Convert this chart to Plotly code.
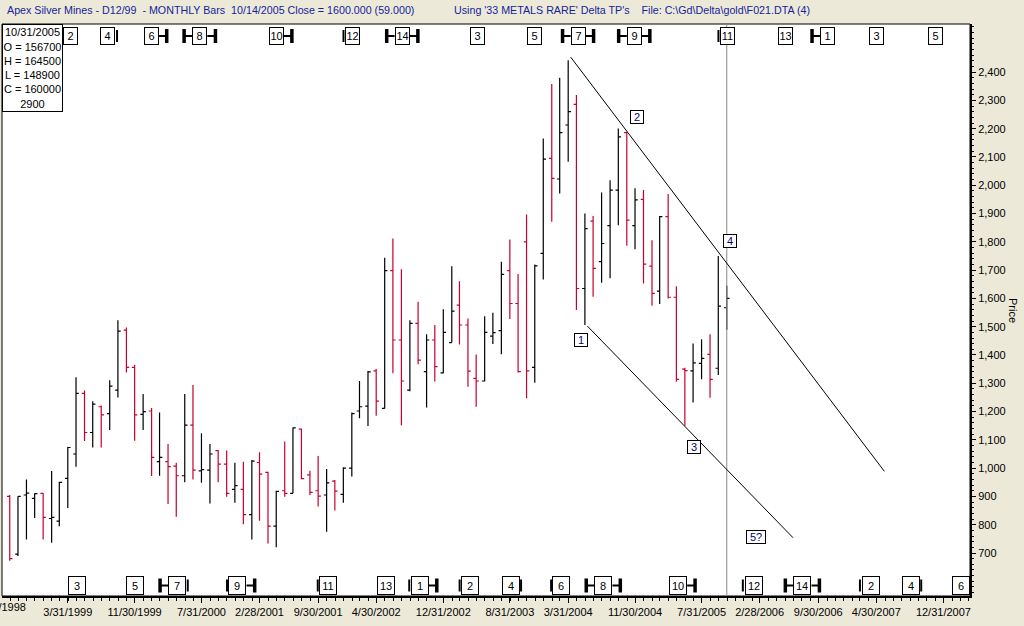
import math
import pandas as pd
import plotly.graph_objects as go

# ---------------- data ----------------
start = pd.Timestamp("1998-08-31")
n_bars = 87
dates = [start + pd.offsets.MonthEnd(k) for k in range(n_bars)]

opens = [900, 696, 905, 893, 911, 822, 813, 964, 1050, 1264,
         1126, 1217, 1193, 1276, 1488, 1356, 1190, 1202, 1023, 1023,
         1007, 973, 1152, 990, 993, 1062, 1014, 925, 925, 836,
         1020, 985, 795, 920, 911, 1138, 976, 920, 905, 954,
         907, 1000, 1202, 1219, 1344, 1211, 1698, 1453, 1276, 1512,
         1341, 1453, 1337, 1444, 1576, 1506, 1317, 1308, 1467, 1486,
         1698, 1582, 1800, 1356, 1759, 2095, 2022, 2213, 2286, 1635,
         1873, 1730, 1857, 1983, 2186, 1857, 1950, 1714, 1626, 1889,
         1604, 1350, 1344, 1370, 1402, 1353, 1567]
highs = [905, 901, 960, 911, 912, 990, 952, 1075, 1321, 1274,
         1236, 1221, 1311, 1523, 1497, 1365, 1262, 1213, 1197, 1085,
         1019, 1262, 1294, 1123, 1085, 1064, 1062, 1019, 1023, 1029,
         1056, 987, 920, 1094, 1144, 1140, 991, 1043, 997, 958,
         1003, 1197, 1308, 1343, 1350, 1744, 1812, 1703, 1523, 1588,
         1473, 1506, 1562, 1714, 1661, 1529, 1402, 1537, 1549, 1730,
         1808, 1686, 1897, 1720, 2165, 2358, 2380, 2442, 2319, 1900,
         1891, 1974, 2018, 2201, 2189, 1989, 1983, 1806, 1891, 1969,
         1643, 1355, 1441, 1456, 1473, 1750, 1645]
lows = [673, 689, 748, 824, 748, 736, 795, 859, 1005, 1096,
        1073, 1073, 1135, 1250, 1338, 1097, 1135, 972, 973, 873,
        828, 950, 960, 948, 875, 950, 899, 878, 802, 748,
        814, 734, 720, 899, 911, 961, 905, 864, 775, 850,
        878, 970, 1176, 1149, 1185, 1211, 1335, 1152, 1272, 1367,
        1214, 1306, 1335, 1444, 1437, 1288, 1217, 1306, 1439, 1403,
        1527, 1338, 1247, 1302, 1667, 1871, 1971, 2083, 1559, 1506,
        1606, 1655, 1671, 1859, 1786, 1774, 1653, 1574, 1580, 1600,
        1305, 1150, 1232, 1314, 1249, 1329, 1489]
closes = [680, 900, 912, 910, 826, 826, 950, 1073, 1264, 1126,
          1226, 1188, 1290, 1484, 1356, 1188, 1200, 1038, 1038, 1005,
          973, 1152, 993, 995, 1050, 1014, 911, 938, 836, 1025,
          979, 795, 918, 911, 1142, 963, 914, 901, 948, 919,
          1000, 1193, 1217, 1340, 1237, 1698, 1453, 1308, 1512, 1382,
          1453, 1359, 1480, 1555, 1506, 1343, 1308, 1480, 1479, 1685,
          1582, 1341, 1344, 1715, 2092, 2024, 2186, 2260, 1635, 1847,
          1706, 1794, 1983, 2171, 1877, 1948, 1721, 1618, 1889, 1604,
          1314, 1345, 1372, 1388, 1314, 1573, 1600]

x_tick_labels = ["3/31/1999", "11/30/1999", "7/31/2000", "2/28/2001", "9/30/2001",
                 "4/30/2002", "12/31/2002", "8/31/2003", "3/31/2004", "11/30/2004",
                 "7/31/2005", "2/28/2006", "9/30/2006", "4/30/2007", "12/31/2007"]
y_tick_values = list(range(700, 2401, 100))

# cycle labels (month index from 8/1998)
top_labels = ["2", "4", "6", "8", "10", "12", "14", "3", "5", "7", "9", "11", "13", "1", "3", "5"]
top_pos = [7.3, 11.8, 17.0, 22.8, 32.0, 41.1, 47.1, 56.2, 63.0, 68.2, 74.9, 86.1, 93.1, 98.1, 104.0, 111.1]
top_left = ["", "", "", "H", "", "[", "H", "", "", "H", "H", "[", "", "H", "", ""]
top_right = ["", "[", "H", "H", "H", "", "H", "", "", "H", "H", "", "", "", "", ""]

bot_labels = ["3", "5", "7", "9", "11", "13", "1", "2", "4", "6", "8", "10", "12", "14", "2", "4", "6"]
bot_pos = [8.1, 15.0, 20.1, 27.3, 38.2, 45.2, 49.2, 55.2, 60.1, 66.2, 71.2, 80.2, 89.2, 95.1, 103.3, 108.1, 114.1]
bot_left = ["", "", "H", "[", "[", "", "[", "[", "", "[", "H", "", "[", "H", "[", "", ""]
bot_right = ["", "", "[", "H", "", "", "H", "", "[", "", "H", "H", "", "H", "", "[", ""]

# turning points on chart
tp_labels = ["1", "2", "3", "4", "5?"]
tp_month = [68.5, 75.2, 82.1, 86.4, 89.5]
tp_price = [1453, 2241, 1074, 1803, 756]

# channel lines (month index, price)
upper_line = [(67.3, 2453), (104.96, 989)]
lower_line = [(69.3, 1502), (94.0, 754)]
marker_month = 86  # 10/31/2005

# ---------------- helpers ----------------
W, H = 1024, 626
ML, MR, MT, MB = 2, 54, 24, 30
PW, PH = W - ML - MR, H - MT - MB
PX_PER_MONTH = 8.34


def mpos(f):
    k = math.floor(f)
    ts = start + pd.offsets.MonthEnd(k) + pd.Timedelta(days=(f - k) * 30.44)
    return ts.strftime("%Y-%m-%d %H:%M")


def py(px_y):
    return 1 - (px_y - MT) / PH


FONT = "Liberation Sans, Arial, sans-serif"

fig = go.Figure()
fig.add_trace(go.Ohlc(
    x=dates, open=opens, high=highs, low=lows, close=closes,
    increasing=dict(line=dict(color="#000000", width=1.2)),
    decreasing=dict(line=dict(color="#C8002E", width=1.2)),
    tickwidth=0.36, hoverinfo="skip", showlegend=False,
))

shapes = []
annotations = []

# frame
shapes.append(dict(type="rect", xref="paper", yref="paper", x0=0, x1=1, y0=0, y1=1,
                   line=dict(color="black", width=1), layer="below"))

# vertical marker line
shapes.append(dict(type="line", xref="x", yref="paper", x0=mpos(marker_month), x1=mpos(marker_month),
                   y0=0, y1=1, line=dict(color="#8a8a8a", width=1)))

# channel lines
for ln in (upper_line, lower_line):
    shapes.append(dict(type="line", xref="x", yref="y",
                       x0=mpos(ln[0][0]), y0=ln[0][1], x1=mpos(ln[1][0]), y1=ln[1][1],
                       line=dict(color="black", width=1)))


def add_row(labels, pos, lefts, rights, cy, bw, bh):
    for lab, p, lft, rgt in zip(labels, pos, lefts, rights):
        annotations.append(dict(
            x=mpos(p), xref="x", y=py(cy), yref="paper", text=lab, showarrow=False,
            font=dict(family=FONT, size=11, color="black"),
            bgcolor="white", bordercolor="black", borderwidth=1, borderpad=0,
            width=bw - 2, height=bh - 2, xanchor="center", yanchor="middle"))
        half = bw / 2.0
        for side, kind in ((-1, lft), (1, rgt)):
            if kind == "H":
                e = p + side * half / PX_PER_MONTH
                b = p + side * (half + 8) / PX_PER_MONTH
                shapes.append(dict(type="line", xref="x", yref="paper", x0=mpos(e), x1=mpos(b),
                                   y0=py(cy), y1=py(cy), line=dict(color="black", width=2)))
                shapes.append(dict(type="line", xref="x", yref="paper", x0=mpos(b), x1=mpos(b),
                                   y0=py(cy - 7), y1=py(cy + 7), line=dict(color="black", width=3.5)))
            elif kind == "[":
                b = p + side * (half + 1.5) / PX_PER_MONTH
                shapes.append(dict(type="line", xref="x", yref="paper", x0=mpos(b), x1=mpos(b),
                                   y0=py(cy - 6), y1=py(cy + 6), line=dict(color="black", width=2)))


add_row(top_labels, top_pos, top_left, top_right, 36, 15, 18)
add_row(bot_labels, bot_pos, bot_left, bot_right, 585.5, 18, 19)

# turning point labels
for lab, m, pr in zip(tp_labels, tp_month, tp_price):
    annotations.append(dict(
        x=mpos(m), xref="x", y=pr, yref="y", text=lab, showarrow=False,
        font=dict(family=FONT, size=11, color="#000080"),
        bgcolor="white", bordercolor="black", borderwidth=1, borderpad=0,
        width=(18 if len(lab) > 1 else 12), height=12, xanchor="center", yanchor="middle"))

# info box
annotations.append(dict(
    x=0, xref="paper", y=1, yref="paper", xanchor="left", yanchor="top",
    text="10/31/2005<br>O = 156700<br>H = 164500<br>L = 148900<br>C = 160000<br>2900",
    showarrow=False, align="center", font=dict(family=FONT, size=11, color="black"),
    bgcolor="white", bordercolor="black", borderwidth=1, borderpad=0, width=59, height=86))

# header texts
annotations.append(dict(
    x=(5 - ML) / PW, xref="paper", y=py(10), yref="paper", xanchor="left", yanchor="middle",
    text="Apex Silver Mines - D12/99 \u00a0- MONTHLY Bars \u00a010/14/2005 Close = 1600.000 (59.000)",
    showarrow=False, font=dict(family=FONT, size=10.7, color="#15239A")))
annotations.append(dict(
    x=(452 - ML) / PW, xref="paper", y=py(10), yref="paper", xanchor="left", yanchor="middle",
    text="Using '33 METALS RARE' Delta TP's \u00a0\u00a0 File: C:\\Gd\\Delta\\gold\\F021.DTA (4)",
    showarrow=False, font=dict(family=FONT, size=10.7, color="#15239A")))

# clipped first date label
annotations.append(dict(
    x=(1 - ML) / PW, xref="paper", y=py(607), yref="paper", xanchor="center", yanchor="middle",
    text="7/31/1998", showarrow=False, font=dict(family=FONT, size=11, color="black")))

# y-axis title
annotations.append(dict(
    x=(1013 - ML) / PW, xref="paper", y=py(310), yref="paper", xanchor="center", yanchor="middle",
    text="Price", textangle=90, showarrow=False, font=dict(family=FONT, size=11, color="black")))

tick_dates = [pd.to_datetime(s, format="%m/%d/%Y").strftime("%Y-%m-%d") for s in x_tick_labels]

fig.update_layout(
    width=W, height=H,
    margin=dict(l=ML, r=MR, t=MT, b=MB, pad=0),
    paper_bgcolor="#ECE9D8", plot_bgcolor="white",
    font=dict(family=FONT, size=11, color="black"),
    showlegend=False,
    shapes=shapes, annotations=annotations,
    xaxis=dict(
        type="date", range=[mpos(-0.91), mpos(115.2)],
        rangeslider=dict(visible=False),
        showline=True, linecolor="black", linewidth=2,
        ticks="outside", ticklen=5, tickcolor="black", tickwidth=1,
        tickmode="array", tickvals=tick_dates, ticktext=x_tick_labels,
        tickfont=dict(family=FONT, size=11, color="black"),
        showgrid=False, zeroline=False,
        minor=dict(ticks="outside", ticklen=3, tickcolor="black", dtick="M1",
                   tick0="1998-09-01", showgrid=False),
    ),
    yaxis=dict(
        side="right", range=[548, 2570],
        showline=True, linecolor="black", linewidth=2,
        ticks="outside", ticklen=4, tickcolor="black",
        tickmode="array", tickvals=y_tick_values, tickformat=",d",
        tickfont=dict(family=FONT, size=11, color="black"),
        showgrid=False, zeroline=False,
        minor=dict(ticks="outside", ticklen=2, tickcolor="black", dtick=20, tick0=0, showgrid=False),
    ),
)

fig.write_html("out.html",
               config={"displayModeBar": False, "staticPlot": True},
               post_script="document.body.style.margin='0px';document.body.style.overflow='hidden';")
